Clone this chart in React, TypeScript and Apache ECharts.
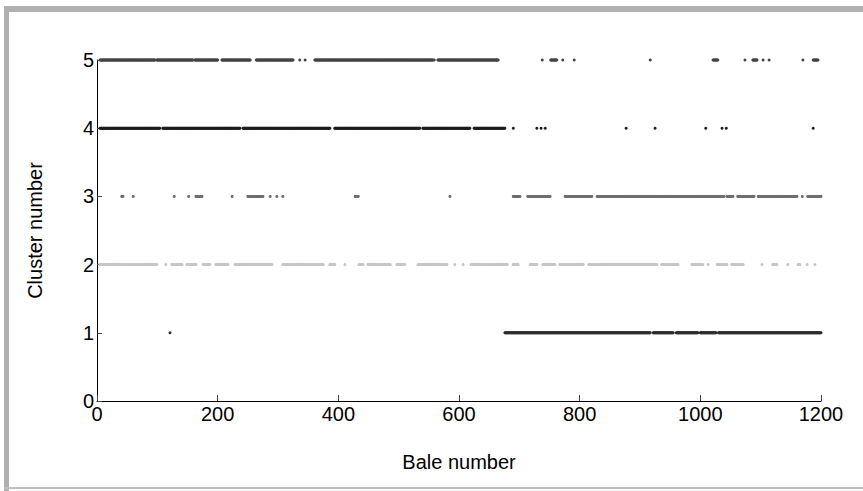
import React, { useEffect, useRef } from "react";
import * as echarts from "echarts";

// Tick values
const xTickValues = [0, 200, 400, 600, 800, 1000, 1200];
const yTickValues = [0, 1, 2, 3, 4, 5];

// Bale-number runs [first, last] assigned to each cluster
const cluster1Runs: number[][] = [
  [121, 121], [676, 917], [922, 955], [960, 996], [1000, 1026], [1030, 1119], [1120, 1200],
];
const cluster2Runs: number[][] = [
  [5, 99], [114, 114], [124, 141], [149, 164], [176, 187], [197, 217], [229, 290], [308, 375],
  [386, 394], [411, 411], [434, 441], [449, 486], [497, 510], [532, 580], [593, 593], [607, 607],
  [620, 680], [690, 698], [718, 729], [739, 759], [767, 784], [787, 806], [815, 928], [936, 963],
  [986, 1004], [1013, 1013], [1028, 1044], [1052, 1071], [1102, 1102], [1120, 1127], [1145, 1145],
  [1162, 1165], [1177, 1177], [1190, 1190],
];
const cluster3Runs: number[][] = [
  [41, 43], [60, 60], [128, 128], [152, 152], [164, 174], [224, 224], [250, 275], [287, 287],
  [298, 298], [308, 308], [428, 433], [585, 585], [690, 701], [714, 751], [776, 820], [829, 1039],
  [1044, 1054], [1062, 1089], [1096, 1160], [1169, 1169], [1178, 1200],
];
const cluster4Runs: number[][] = [
  [5, 104], [109, 237], [242, 386], [394, 535], [540, 618], [625, 676], [690, 690], [729, 729],
  [736, 736], [743, 743], [877, 877], [925, 925], [1009, 1009], [1036, 1036], [1043, 1043], [1187, 1187],
];
const cluster5Runs: number[][] = [
  [5, 96], [99, 159], [162, 200], [207, 254], [264, 325], [336, 336], [345, 345], [361, 557],
  [559, 559], [565, 665], [738, 738], [752, 762], [772, 772], [791, 791], [917, 917], [1021, 1029],
  [1074, 1074], [1087, 1094], [1104, 1104], [1114, 1114], [1170, 1170], [1187, 1195],
];

const clusterColors = ["#2e2e2e", "#c6c6c6", "#6f6f6f", "#1e1e1e", "#444444"];

function expand(runs: number[][], cluster: number): number[][] {
  const pts: number[][] = [];
  for (const [a, b] of runs) {
    for (let i = a; i <= b; i++) pts.push([i, cluster]);
  }
  return pts;
}

export default function App() {
  const ref = useRef<HTMLDivElement>(null);
  useEffect(() => {
    if (!ref.current) return;
    const chart = echarts.init(ref.current, undefined, { renderer: "svg" });
    const allRuns = [cluster1Runs, cluster2Runs, cluster3Runs, cluster4Runs, cluster5Runs];
    const font = "'Liberation Sans', Arial, sans-serif";
    chart.setOption({
      animation: false,
      backgroundColor: "#ffffff",
      grid: { left: 97, right: 42, top: 60, bottom: 90, containLabel: false },
      xAxis: {
        type: "value",
        min: xTickValues[0],
        max: xTickValues[xTickValues.length - 1],
        interval: 200,
        name: "Bale number",
        nameLocation: "middle",
        nameGap: 51,
        nameTextStyle: { fontSize: 20, color: "#000", fontFamily: font },
        axisLine: { lineStyle: { color: "#000", width: 1 } },
        axisTick: { inside: true, length: 6, lineStyle: { color: "#444" } },
        axisLabel: {
          fontSize: 20, color: "#000", fontFamily: font, margin: 3,
          formatter: (v: number) => String(v),
        },
        splitLine: { show: false },
      },
      yAxis: {
        type: "value",
        min: yTickValues[0],
        max: yTickValues[yTickValues.length - 1],
        interval: 1,
        name: "Cluster number",
        nameLocation: "middle",
        nameGap: 52,
        nameTextStyle: { fontSize: 20, color: "#000", fontFamily: font },
        axisLine: { show: true, lineStyle: { color: "#000", width: 1 } },
        axisTick: { show: true, inside: true, length: 5, lineStyle: { color: "#444" } },
        axisLabel: {
          fontSize: 20, color: "#000", fontFamily: font, margin: 3,
          formatter: (v: number) => String(v),
        },
        splitLine: { show: false },
      },
      graphic: [
        { type: "rect", shape: { x: 4, y: 6, width: 859, height: 6 }, style: { fill: "#b0b0b0" } },
        { type: "rect", shape: { x: 4, y: 6, width: 5, height: 485 }, style: { fill: "#b0b0b0" } },
        { type: "rect", shape: { x: 4, y: 487, width: 859, height: 2 }, style: { fill: "#c0c0c0" } },
      ],
      series: allRuns.map((runs, idx) => ({
        type: "scatter",
        name: String(idx + 1),
        symbol: "circle",
        symbolSize: 3,
        itemStyle: { color: clusterColors[idx], opacity: 1 },
        data: expand(runs, idx + 1),
        silent: true,
      })),
    });
    return () => chart.dispose();
  }, []);
  return (
    <div
      ref={ref}
      style={{ position: "fixed", left: 0, top: 0, width: 863, height: 491, background: "#fff" }}
    />
  );
}
